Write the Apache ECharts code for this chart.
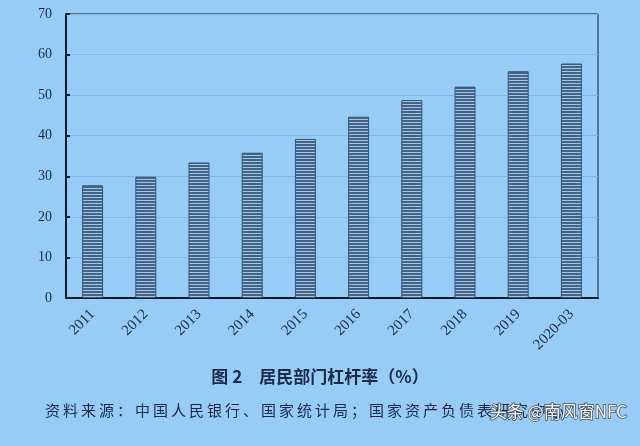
<!DOCTYPE html>
<html><head><meta charset="utf-8">
<script src="https://cdn.jsdelivr.net/npm/echarts@6/dist/echarts.min.js"></script>
<style>html,body{margin:0;padding:0;background:#97CCF7;}#c{width:640px;height:446px;}</style>
</head><body><div id="c"></div>
<script>
var categories = ['2011','2012','2013','2014','2015','2016','2017','2018','2019','2020-03'];
var leverage = [27.8, 29.9, 33.4, 35.8, 39.2, 44.7, 48.8, 52.1, 55.9, 57.8];
var yTicks = {min: 0, max: 70, interval: 10};
var titleText = '图 2\u3000居民部门杠杆率（%）';
var sourceText = '资料来源：中国人民银行、国家统计局；国家资产负债表研究中心';
var watermarkText = '头条 @南风窗NFC';

function spaced(s) { return s.split('').join('\u2009'); }

var pc = document.createElement('canvas');
pc.width = 4; pc.height = 3;
var g = pc.getContext('2d');
g.fillStyle = '#42668a'; g.fillRect(0,0,4,3);
g.fillStyle = '#a6c4e0'; g.fillRect(0,2,4,1);

var chart = echarts.init(document.getElementById('c'));
chart.setOption({
  backgroundColor: '#97CCF7',
  animation: false,
  grid: {left: 66, right: 42, top: 14, bottom: 148, show: true, borderColor: '#10233f', borderWidth: 1, backgroundColor: 'transparent'},
  xAxis: {
    type: 'category', data: categories,
    axisLine: {lineStyle: {color: '#0c1a30', width: 2}},
    axisTick: {inside: true, length: 4, lineStyle: {color: '#0c1a30', width: 2}},
    axisLabel: {rotate: 45, color: '#1a2a48', fontFamily: 'Liberation Serif', fontSize: 15, margin: 14}
  },
  yAxis: {
    type: 'value', min: yTicks.min, max: yTicks.max, interval: yTicks.interval,
    axisLine: {show: true, lineStyle: {color: '#0c1a30', width: 2}},
    axisTick: {show: true, inside: true, length: 4, lineStyle: {color: '#0c1a30', width: 2}},
    splitLine: {lineStyle: {color: '#80b7e3', width: 1}},
    axisLabel: {color: '#1a2a48', fontFamily: 'Liberation Serif', fontSize: 14, margin: 14}
  },
  series: [{
    type: 'bar', data: leverage, barWidth: 21,
    itemStyle: {color: {image: pc, repeat: 'repeat'}, borderColor: '#34557a', borderWidth: 1}
  }],
  graphic: [
    {type: 'text', left: 'center', top: 368, style: {text: titleText, font: 'bold 17px "Noto Sans CJK SC"', fill: '#1a2a48'}},
    {type: 'text', left: 45, top: 403, style: {text: spaced(sourceText), font: '15px "Noto Sans CJK SC"', fill: '#1a2a48'}},
    {type: 'text', left: 489, top: 402, style: {text: watermarkText, font: '17px "Noto Sans CJK SC"', fill: '#ffffff', stroke: '#3e4e66', lineWidth: 1.5}}
  ]
});
</script></body></html>
